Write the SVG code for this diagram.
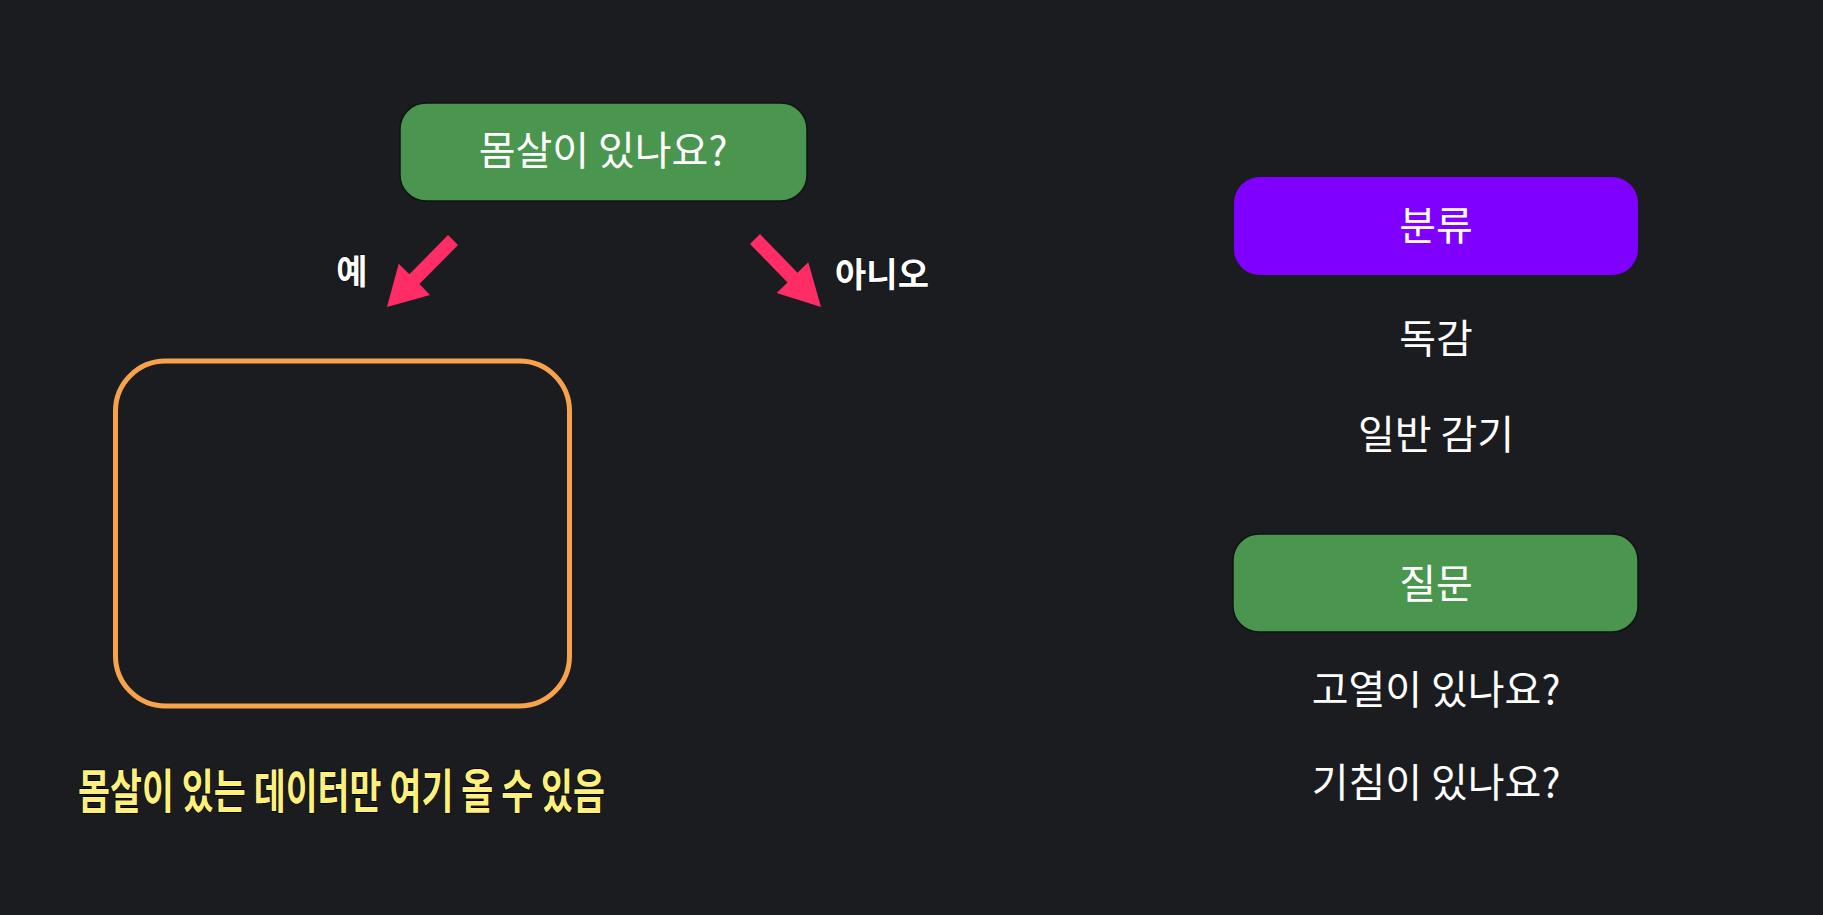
<svg xmlns="http://www.w3.org/2000/svg" width="1823" height="915" viewBox="0 0 1823 915">
<style>
  .bg { fill: #1b1c20; }
  .green { fill: #4b964f; stroke: #111214; stroke-width: 1.5; }
  .purple { fill: #7f00ff; }
  .t { font-family: "Noto Sans CJK KR", "Noto Sans", sans-serif; fill: #ffffff; text-anchor: middle; font-size: 40px; }
  .hand { font-family: "Noto Sans CJK KR", sans-serif; fill: #ffffff; font-weight: 700; font-size: 34px; text-anchor: middle; stroke: #000000; stroke-width: 1; paint-order: stroke; }
  .note { font-family: "Noto Sans CJK KR", sans-serif; fill: #fdf07c; font-weight: 700; font-size: 47px; stroke: #000000; stroke-width: 1.5; paint-order: stroke; }
  .arrow { fill: #ff2c66; }
  .frame { fill: none; stroke: #f7a34b; stroke-width: 5; }
</style>
<rect class="bg" x="0" y="0" width="1823" height="915"/>

<g id="question-root">
  <rect class="green" x="400" y="103" width="407" height="98" rx="26"/>
  <text class="t" x="603" y="165">몸살이 있나요?</text>
</g>

<g id="connectors">
  <polygon class="arrow" points="448,235 409.4,274.3 398.7,263.8 387,307 430,295 419.4,284.1 458,245"/>
  <polygon class="arrow" points="760,234.1 797.5,272.7 808.3,262.3 821,307 776.7,292.9 787.5,282.5 750,243.9"/>
  <text class="hand" x="352" y="284">예</text>
  <text class="hand" x="882" y="287">아니오</text>
</g>

<g id="yes-box">
  <rect class="frame" x="115.5" y="361" width="454" height="345" rx="50"/>
</g>

<g id="yes-note">
  <text class="note" x="78" y="808" textLength="527" lengthAdjust="spacingAndGlyphs">몸살이 있는 데이터만 여기 올 수 있음</text>
</g>

<g id="classification">
  <rect class="purple" x="1234" y="177" width="404" height="98" rx="26"/>
  <text class="t" x="1436" y="240">분류</text>
</g>
<g id="class-flu">
  <text class="t" x="1436" y="353">독감</text>
</g>
<g id="class-cold">
  <text class="t" x="1436" y="449">일반 감기</text>
</g>

<g id="questions">
  <rect class="green" x="1233" y="534" width="405" height="98" rx="26"/>
  <text class="t" x="1436" y="598">질문</text>
</g>
<g id="q-fever">
  <text class="t" x="1436" y="704">고열이 있나요?</text>
</g>
<g id="q-cough">
  <text class="t" x="1436" y="797">기침이 있나요?</text>
</g>
</svg>
